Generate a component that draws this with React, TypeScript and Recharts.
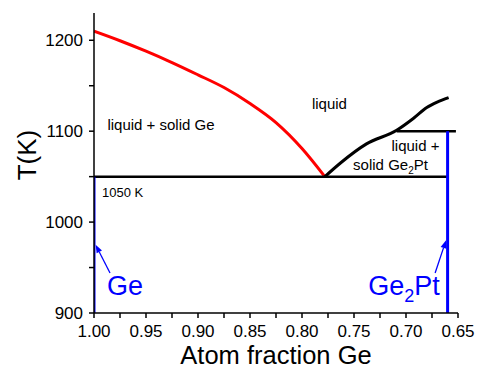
import { LineChart, Line, XAxis, YAxis, ReferenceDot, ReferenceLine } from "recharts";

const FONT = '"Liberation Sans", Arial, sans-serif';

// Ge liquidus (red)
const geLiquidusX = [1.0, 0.975, 0.95, 0.925, 0.9, 0.875, 0.85, 0.825, 0.8, 0.778];
const geLiquidusT = [1210, 1199.5, 1188, 1175.5, 1162, 1148, 1130.5, 1109.5, 1081, 1050];
// Ge2Pt liquidus (black)
const ptLiquidusX = [0.778, 0.763, 0.738, 0.709, 0.693, 0.68, 0.67, 0.659];
const ptLiquidusT = [1050, 1065, 1086, 1101, 1114, 1126, 1132, 1137];
// horizontal lines
const eutecticX = [1.0, 0.66];
const eutecticT = 1050;
const upperX = [0.709, 0.652];
const upperT = 1100;
// compounds (blue verticals)
const geX = 1.0;
const geT = [900, 1050];
const ge2ptX = 0.66;
const ge2ptT = [900, 1100];

const xTicks = [0.65, 0.675, 0.7, 0.725, 0.75, 0.775, 0.8, 0.825, 0.85, 0.875, 0.9, 0.925, 0.95, 0.975, 1.0];
const xLabelled = [0.65, 0.7, 0.75, 0.8, 0.85, 0.9, 0.95, 1.0];
const yTicks = [900, 950, 1000, 1050, 1100, 1150, 1200];
const yLabelled = [900, 1000, 1100, 1200];

const regionLabels = [
  { text: "liquid + solid Ge", x: 0.9356, y: 1107, size: 15 },
  { text: "liquid", x: 0.7736, y: 1130, size: 15 },
  { text: "liquid +", x: 0.6909, y: 1084, size: 15 },
];

const arrows = [
  { x1: 0.9846, y1: 944, x2: 0.9984, y2: 975 },
  { x1: 0.672, y1: 944, x2: 0.6615, y2: 980 },
];

const pts = (xs: number[], ys: number[]) => xs.map((x, i) => ({ x, y: ys[i] }));

const XTick = (p: any) => {
  const v = p.payload.value;
  const show = xLabelled.some((t) => Math.abs(t - v) < 1e-6);
  return (
    <g>
      <line x1={p.x} x2={p.x} y1={p.y} y2={p.y + 5} stroke="#000" strokeWidth={1.5} />
      {show && (
        <text x={p.x} y={p.y + 24} textAnchor="middle" fontSize={17} fontFamily={FONT} fill="#000">
          {v.toFixed(2)}
        </text>
      )}
    </g>
  );
};

const YTick = (p: any) => {
  const v = p.payload.value;
  const show = yLabelled.includes(v);
  return (
    <g>
      <line x1={p.x - 5} x2={p.x} y1={p.y} y2={p.y} stroke="#000" strokeWidth={1.5} />
      {show && (
        <text x={p.x - 11} y={p.y} dy="0.36em" textAnchor="end" fontSize={17} fontFamily={FONT} fill="#000">
          {v}
        </text>
      )}
    </g>
  );
};

const YTitle = (p: any) => {
  const vb = p.viewBox;
  const cx = vb.x + 13;
  const cy = vb.y + vb.height / 2 - 8;
  return (
    <text x={cx} y={cy} dy="0.36em" transform={`rotate(-90, ${cx}, ${cy})`} textAnchor="middle" fontSize={26} fontFamily={FONT} fill="#000">
      T(K)
    </text>
  );
};

const XTitle = (p: any) => {
  const vb = p.viewBox;
  return (
    <text x={vb.x + vb.width / 2} y={vb.y + 51} textAnchor="middle" fontSize={25.5} fontFamily={FONT} fill="#000">
      Atom fraction Ge
    </text>
  );
};

const Arrow = (p: any) => {
  const { x1, y1, x2, y2 } = p;
  const a = Math.atan2(y2 - y1, x2 - x1);
  const len = 8;
  const w = 3;
  const bx = x2 - len * Math.cos(a);
  const by = y2 - len * Math.sin(a);
  const nx = -Math.sin(a) * w;
  const ny = Math.cos(a) * w;
  return (
    <g>
      <line x1={x1} y1={y1} x2={bx} y2={by} stroke="#0000ff" strokeWidth={1.3} />
      <polygon points={`${x2},${y2} ${bx + nx},${by + ny} ${bx - nx},${by - ny}`} fill="#0000ff" />
    </g>
  );
};

export default function App() {
  return (
    <div style={{ position: "absolute", left: 0, top: 0 }}>
      <LineChart width={477} height={370} margin={{ top: 13, right: 19, left: 14, bottom: 0 }}>
        <XAxis
          type="number"
          dataKey="x"
          domain={[0.65, 1.0]}
          reversed
          ticks={xTicks}
          tick={XTick}
          tickLine={false}
          tickSize={0}
          tickMargin={0}
          interval={0}
          height={57}
          axisLine={{ stroke: "#000", strokeWidth: 1.5 }}
          allowDataOverflow
          label={XTitle}
        />
        <YAxis
          type="number"
          dataKey="y"
          domain={[900, 1230]}
          ticks={yTicks}
          tick={YTick}
          tickLine={false}
          tickSize={0}
          tickMargin={0}
          interval={0}
          width={80}
          axisLine={{ stroke: "#000", strokeWidth: 1.5 }}
          allowDataOverflow
          label={YTitle}
        />
        <Line data={pts(geLiquidusX, geLiquidusT)} dataKey="y" type="monotone" stroke="#ff0000" strokeWidth={3} dot={false} activeDot={false} isAnimationActive={false} />
        <Line data={pts(ptLiquidusX, ptLiquidusT)} dataKey="y" type="monotone" stroke="#000" strokeWidth={3} dot={false} activeDot={false} isAnimationActive={false} />
        <Line data={pts(eutecticX, [eutecticT, eutecticT])} dataKey="y" type="linear" stroke="#000" strokeWidth={2.5} dot={false} activeDot={false} isAnimationActive={false} />
        <Line data={pts(upperX, [upperT, upperT])} dataKey="y" type="linear" stroke="#000" strokeWidth={2.5} dot={false} activeDot={false} isAnimationActive={false} />
        <Line data={pts([geX, geX], geT)} dataKey="y" type="linear" stroke="#0000ff" strokeWidth={3} dot={false} activeDot={false} isAnimationActive={false} />
        <Line data={pts([ge2ptX, ge2ptX], ge2ptT)} dataKey="y" type="linear" stroke="#0000ff" strokeWidth={3} dot={false} activeDot={false} isAnimationActive={false} />
        {arrows.map((a, i) => (
          <ReferenceLine key={`a${i}`} segment={[{ x: a.x1, y: a.y1 }, { x: a.x2, y: a.y2 }]} shape={Arrow} ifOverflow="visible" />
        ))}
        {regionLabels.map((l) => (
          <ReferenceDot
            key={l.text}
            x={l.x}
            y={l.y}
            r={0}
            ifOverflow="visible"
            shape={(p: any) => (
              <text x={p.cx} y={p.cy} dy="0.36em" textAnchor="middle" fontSize={l.size} fontFamily={FONT} fill="#000">
                {l.text}
              </text>
            )}
          />
        ))}
        <ReferenceDot
          x={0.7149}
          y={1063}
          r={0}
          ifOverflow="visible"
          shape={(p: any) => (
            <text x={p.cx} y={p.cy} dy="0.36em" textAnchor="middle" fontSize={15} fontFamily={FONT} fill="#000">
              solid Ge<tspan dy={4} fontSize={10}>2</tspan><tspan dy={-4}>Pt</tspan>
            </text>
          )}
        />
        <ReferenceDot
          x={0.9923}
          y={1033}
          r={0}
          ifOverflow="visible"
          shape={(p: any) => (
            <text x={p.cx} y={p.cy} dy="0.36em" textAnchor="start" fontSize={13} fontFamily={FONT} fill="#000">
              1050 K
            </text>
          )}
        />
        <ReferenceDot
          x={0.9702}
          y={930}
          r={0}
          ifOverflow="visible"
          shape={(p: any) => (
            <text x={p.cx} y={p.cy} dy="0.36em" textAnchor="middle" fontSize={27} fontFamily={FONT} fill="#0000ff">
              Ge
            </text>
          )}
        />
        <ReferenceDot
          x={0.702}
          y={930}
          r={0}
          ifOverflow="visible"
          shape={(p: any) => (
            <text x={p.cx} y={p.cy} dy="0.36em" textAnchor="middle" fontSize={27} fontFamily={FONT} fill="#0000ff">
              Ge<tspan dy={7} fontSize={18}>2</tspan><tspan dy={-7}>Pt</tspan>
            </text>
          )}
        />
      </LineChart>
    </div>
  );
}
